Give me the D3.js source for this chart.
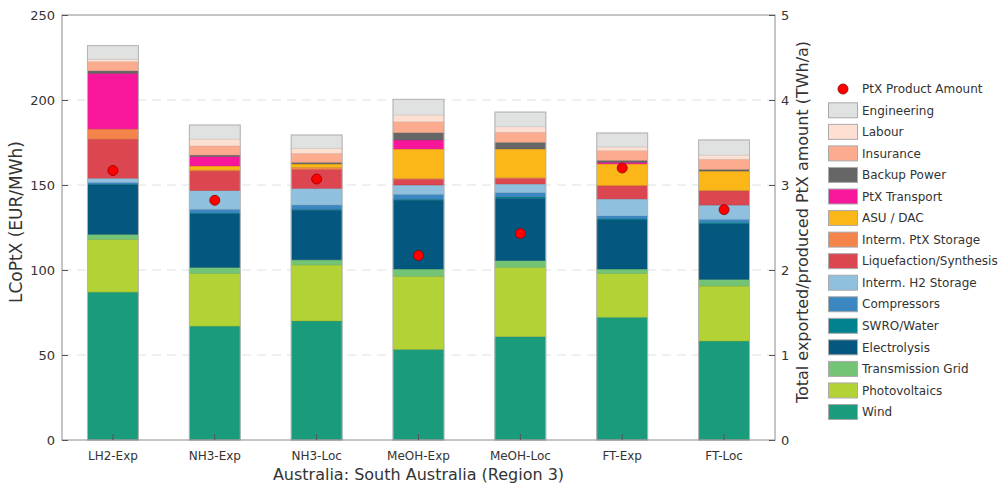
<!DOCTYPE html>
<html><head><meta charset="utf-8">
<script src="https://cdn.jsdelivr.net/npm/d3@7"></script>
<style>body{margin:0;background:#fff;} svg{display:block;font-family:"DejaVu Sans",sans-serif;}</style>
</head><body>
<svg id="chart" width="1001" height="487"></svg>
<script>
const categories = ["LH2-Exp","NH3-Exp","NH3-Loc","MeOH-Exp","MeOH-Loc","FT-Exp","FT-Loc"];
const components = ["Wind","Photovoltaics","Transmission Grid","Electrolysis","SWRO/Water","Compressors","Interm. H2 Storage","Liquefaction/Synthesis","Interm. PtX Storage","ASU / DAC","PtX Transport","Backup Power","Insurance","Labour","Engineering"];
const colors = ["#1a9c7c","#b2d235","#74c476","#04587f","#02818f","#3b87c2","#8fc1de","#db4650","#f5844a","#fbb617","#f8169b","#666666","#fcab8e","#fde0d2","#e0e2e2"];
const wind          = [87.0, 67.0, 70.0, 53.3, 60.8, 72.2, 58.2];
const photovoltaics = [31.0, 31.0, 33.0, 43.0, 40.8, 25.8, 32.4];
const transmission  = [3.0, 3.5, 3.0, 4.3, 3.9, 2.6, 3.9];
const electrolysis  = [29.0, 31.5, 29.2, 40.5, 36.7, 28.8, 32.6];
const swro          = [0.5, 0.5, 0.5, 0.5, 0.9, 0.6, 0.9];
const compressors   = [1.0, 2.2, 2.5, 2.9, 2.4, 1.8, 1.8];
const h2Storage     = [2.5, 11.0, 9.8, 5.5, 5.1, 10.0, 8.4];
const liquefaction  = [23.0, 11.5, 11.2, 3.4, 3.3, 7.8, 8.3];
const ptxStorage    = [6.0, 0.6, 1.2, 0.5, 0.4, 0.2, 0.4];
const asuDac        = [0.0, 2.4, 2.0, 17.3, 16.9, 12.6, 11.3];
const ptxTransport  = [32.7, 5.5, 0.0, 5.3, 0.0, 1.0, 0.0];
const backupPower   = [1.5, 0.9, 0.9, 4.3, 3.9, 1.1, 1.0];
const insurance     = [5.3, 5.4, 5.3, 6.4, 5.9, 5.7, 5.9];
const labour        = [1.5, 4.0, 3.0, 4.0, 3.3, 2.2, 2.5];
const engineering   = [8.0, 8.3, 7.8, 9.2, 8.6, 8.2, 8.9];
const productAmount = [3.17, 2.82, 3.07, 2.17, 2.43, 3.20, 2.71];
const leftTicks = [0, 50, 100, 150, 200, 250];
const rightTicks = [0, 1, 2, 3, 4, 5];

const seriesValues = [wind, photovoltaics, transmission, electrolysis, swro, compressors, h2Storage, liquefaction, ptxStorage, asuDac, ptxTransport, backupPower, insurance, labour, engineering];

const rows = categories.map((c, i) => {
  const r = {cat: c};
  components.forEach((k, j) => r[k] = seriesValues[j][i]);
  return r;
});

const svg = d3.select("#chart");
const m = {l: 62, r: 775, t: 15, b: 440};
const x = d3.scaleBand().domain(categories).range([m.l, m.r]).paddingInner(0.5).paddingOuter(0.25);
const y = d3.scaleLinear().domain([0, 250]).range([m.b, m.t]);
const y2 = d3.scaleLinear().domain([0, 5]).range([m.b, m.t]);
const color = d3.scaleOrdinal().domain(components).range(colors);

// grid
svg.append("g").selectAll("line").data(leftTicks.filter(d => d > 0 && d < 250)).join("line")
  .attr("x1", m.l).attr("x2", m.r).attr("y1", d => y(d)).attr("y2", d => y(d))
  .attr("stroke", "#e0e0e0").attr("stroke-width", 1).attr("stroke-dasharray", "9,6");

// stacked bars
const stack = d3.stack().keys(components)(rows);
const gBars = svg.append("g");
stack.forEach(layer => {
  gBars.append("g").selectAll("rect").data(layer).join("rect")
    .attr("x", d => x(d.data.cat))
    .attr("width", x.bandwidth())
    .attr("y", d => y(d[1]))
    .attr("height", d => Math.max(0, y(d[0]) - y(d[1])))
    .attr("fill", color(layer.key))
    .attr("stroke", d3.color(color(layer.key)).darker(0.6))
    .attr("stroke-opacity", d => (d[1] - d[0]) > 0 ? 0.55 : 0)
    .attr("stroke-width", 0.7);
});
// bar outline
gBars.append("g").selectAll("rect").data(rows).join("rect")
  .attr("x", d => x(d.cat)).attr("width", x.bandwidth())
  .attr("y", d => y(d3.sum(components, k => d[k])))
  .attr("height", d => m.b - y(d3.sum(components, k => d[k])))
  .attr("fill", "none").attr("stroke", "#b5b5b5").attr("stroke-width", 1);

// frame
svg.append("rect").attr("x", m.l).attr("y", m.t).attr("width", m.r - m.l).attr("height", m.b - m.t)
  .attr("fill", "none").attr("stroke", "#8c8c8c").attr("stroke-width", 1);

// left axis
const axL = d3.axisLeft(y).tickValues(leftTicks).tickSizeInner(-6).tickSizeOuter(0).tickPadding(7);
const gL = svg.append("g").attr("transform", `translate(${m.l},0)`).call(axL);
// right axis
const axR = d3.axisRight(y2).tickValues(rightTicks).tickFormat(d3.format("d")).tickSizeInner(-6).tickSizeOuter(0).tickPadding(6);
const gR = svg.append("g").attr("transform", `translate(${m.r},0)`).call(axR);
// bottom axis
const axB = d3.axisBottom(x).tickSizeInner(-6).tickSizeOuter(0).tickPadding(11);
const gB = svg.append("g").attr("transform", `translate(0,${m.b})`).call(axB);
[gL, gR, gB].forEach(g => {
  g.select(".domain").remove();
  g.selectAll(".tick line").attr("stroke", "#555").attr("stroke-width", 1);
  g.selectAll(".tick text").attr("fill", "#333").attr("font-family", "DejaVu Sans").attr("font-size", 13);
});
gB.selectAll(".tick text").attr("font-size", 12);

// dots
svg.append("g").selectAll("circle").data(productAmount).join("circle")
  .attr("cx", (d, i) => x(categories[i]) + x.bandwidth() / 2)
  .attr("cy", d => y2(d)).attr("r", 5)
  .attr("fill", "#ff0000").attr("stroke", "#8b0000").attr("stroke-width", 0.8);

// titles
svg.append("text").attr("transform", `translate(22,222) rotate(-90)`)
  .attr("text-anchor", "middle").attr("font-size", 17).attr("fill", "#333").text("LCoPtX (EUR/MWh)");
svg.append("text").attr("transform", `translate(808,222) rotate(-90)`)
  .attr("text-anchor", "middle").attr("font-size", 16).attr("fill", "#333").text("Total exported/produced PtX amount (TWh/a)");
svg.append("text").attr("x", (m.l + m.r) / 2).attr("y", 480)
  .attr("text-anchor", "middle").attr("font-size", 16).attr("fill", "#333").text("Australia: South Australia (Region 3)");

// legend
const lg = svg.append("g").attr("font-size", 12).attr("fill", "#333");
lg.append("circle").attr("cx", 843).attr("cy", 89).attr("r", 5).attr("fill", "#ff0000").attr("stroke", "#8b0000").attr("stroke-width", 0.8);
lg.append("text").attr("x", 862).attr("y", 89).attr("dy", "0.35em").text("PtX Product Amount");
const legendItems = components.slice().reverse();
const rowH = 21.55;
legendItems.forEach((k, i) => {
  const cy = 110.3 + i * rowH;
  lg.append("rect").attr("x", 828.5).attr("y", cy - 7.5).attr("width", 29).attr("height", 15)
    .attr("fill", color(k)).attr("stroke", "#aaa").attr("stroke-width", 1);
  lg.append("text").attr("x", 862).attr("y", cy).attr("dy", "0.35em").text(k);
});
</script>
</body></html>
